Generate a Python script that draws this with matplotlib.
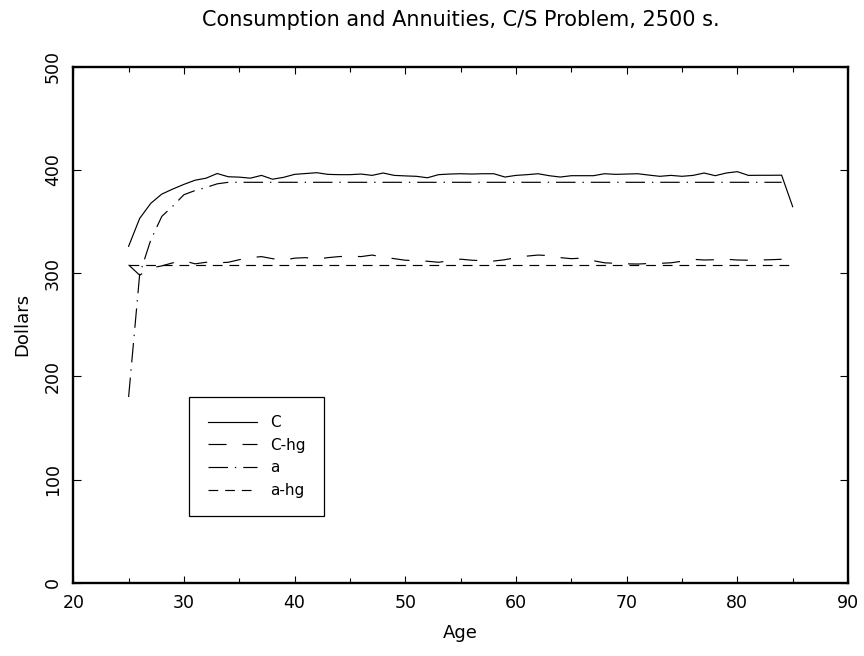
import matplotlib
matplotlib.use("Agg")
import matplotlib.pyplot as plt
from matplotlib.ticker import MultipleLocator

# PART 1 THE DATA

ages_c = list(range(25, 86))
ages_chg = list(range(25, 85))
ages_a = list(range(25, 85))
ages_ahg = list(range(25, 86))

c_values = [
    326, 353, 367.6, 376.6, 381.5, 386, 390, 392, 396.5, 393.4,
    393, 392, 394.7, 391, 392.8, 395.7, 396.5, 397.3, 395.7, 395.4,
    395.4, 396, 394.7, 397, 394.7, 394.2, 393.8, 392.4, 395.4, 396,
    396.3, 396, 396.3, 396.3, 393.1, 394.7, 395.4, 396.3, 394.4, 393.1,
    394.4, 394.4, 394.4, 396.3, 395.7, 396, 396.3, 395, 393.8, 394.7,
    393.8, 394.7, 397, 394.4, 397, 398.3, 394.7, 394.8, 394.8, 394.9,
    364.4,
]

chg_values = [
    308, 298, 305, 307, 310, 312, 309, 310.5, 310, 310.5,
    313, 315, 316, 314, 312.5, 314.5, 315, 313.5, 315, 316,
    316.5, 316, 317.5, 315.5, 314, 312.5, 312, 311.5, 310.5, 312,
    313.5, 312.5, 312, 311.7, 313, 315, 316.5, 317.5, 317, 315,
    314, 314.5, 312, 310, 309.5, 309, 308.8, 309.3, 309.5, 310,
    311.5, 313.4, 312.7, 313, 313.4, 312.7, 312.5, 312.7, 313, 313.4,
]

a_values = [180, 299, 332, 355, 365, 376, 380, 383, 386.5] + [388] * 51

ahg_values = [307.5] * 61

series_labels = ["C", "C-hg", "a", "a-hg"]

x_ticks = [20, 30, 40, 50, 60, 70, 80, 90]
y_ticks = [0, 100, 200, 300, 400, 500]

title_text = "Consumption and Annuities, C/S Problem, 2500 s."


# PART 2 THE PLOT

def plot_consumption():
    plt.rcParams["font.family"] = ["DejaVu Sans"]
    plt.rcParams["lines.scale_dashes"] = False

    fig = plt.figure(figsize=(8.64, 6.56), dpi=100)
    ax = fig.add_axes([0.0848, 0.1117, 0.8967, 0.7866])

    lw = 0.85
    ax.plot(ages_c, c_values, color="black", lw=lw, label=series_labels[0])
    ax.plot(ages_chg, chg_values, color="black", lw=lw,
            dashes=(13, 11.5), label=series_labels[1])
    ax.plot(ages_a, a_values, color="black", lw=lw,
            dashes=(14, 5, 1, 5), label=series_labels[2])
    ax.plot(ages_ahg, ahg_values, color="black", lw=lw,
            dashes=(7, 5), label=series_labels[3])

    ax.set_xlim(20, 90)
    ax.set_ylim(0, 500)
    ax.set_xticks(x_ticks)
    ax.set_yticks(y_ticks)
    ax.xaxis.set_minor_locator(MultipleLocator(5))

    for side in ax.spines.values():
        side.set_linewidth(1.7)

    ax.tick_params(which="both", direction="in", top=True, right=True,
                   width=0.8, labelsize=12.5)
    ax.tick_params(axis="x", which="major", length=5, pad=8)
    ax.tick_params(axis="x", which="minor", length=3.5)
    ax.tick_params(axis="y", which="major", length=5.8, pad=8)
    for lab in ax.get_yticklabels():
        lab.set_rotation(90)
        lab.set_va("center")

    ax.set_xlabel("Age", fontsize=13)
    ax.xaxis.set_label_coords(0.5, -0.08)
    ax.set_ylabel("Dollars", fontsize=13)
    ax.yaxis.set_label_coords(-0.0546, 0.5)
    ax.set_title(title_text, fontsize=15, y=1.0795, pad=0)

    leg = fig.legend(loc="upper left", bbox_to_anchor=(0.2191, 0.3953),
                     bbox_transform=fig.transFigure, fontsize=11,
                     frameon=True, fancybox=False, framealpha=1,
                     edgecolor="black", borderaxespad=0, borderpad=1.2,
                     handlelength=3.2, handletextpad=0.9, labelspacing=0.5)
    leg.get_frame().set_linewidth(0.9)

    fig.savefig("out.png", dpi=100)


def main():
    plot_consumption()


if __name__ == "__main__":
    main()
